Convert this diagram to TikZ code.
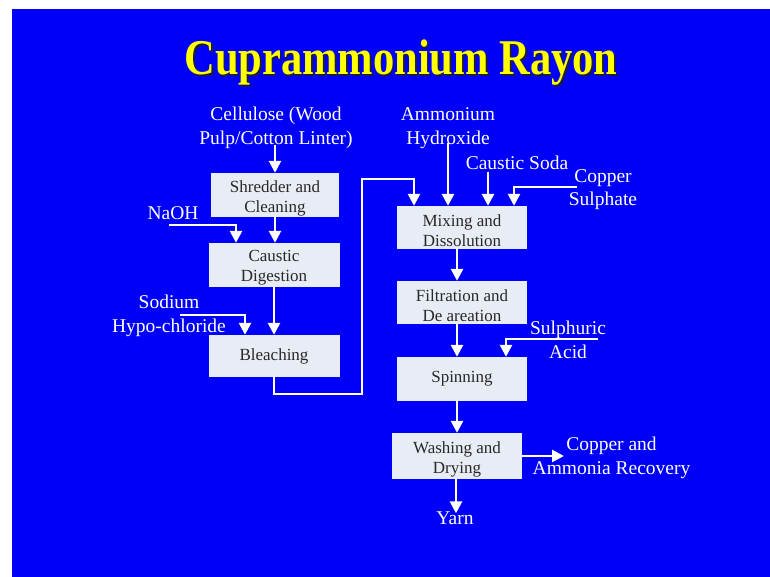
\documentclass[tikz,border=0pt]{standalone}
\usepackage{fontspec}
\setmainfont{Liberation Serif}
\usetikzlibrary{arrows.meta}

\definecolor{slideblue}{RGB}{0,0,250}
\definecolor{boxfill}{RGB}{232,236,244}
\definecolor{boxtext}{RGB}{40,40,40}
\definecolor{titleyellow}{RGB}{255,255,0}
\definecolor{titleshadow}{RGB}{30,30,60}

\tikzset{
  procbox/.style={fill=boxfill, inner sep=0pt},
  boxlabel/.style={text=boxtext, align=center, inner sep=0pt,
    font=\fontsize{17}{20}\selectfont},
  feed/.style={text=white, align=center, inner sep=0pt,
    font=\fontsize{19.5}{23.5}\selectfont},
  flow/.style={draw=white, line width=2.6pt,
    -{Triangle[width=12pt,length=12pt]}},
}

\begin{document}
\begin{tikzpicture}[x=1pt,y=-1pt]
  % page and slide background
  \useasboundingbox (0,0) rectangle (770,577);
  \fill[white] (0,0) rectangle (770,577);
  \fill[slideblue] (12,9) rectangle (770,577);

  % title with drop shadow
  \node[text=titleyellow, font=\bfseries\fontsize{50}{56}\selectfont, xscale=0.85]
    (title) at (401,64)
    {\rlap{\kern2pt\raisebox{-2pt}{\color{titleshadow}Cuprammonium Rayon}}Cuprammonium Rayon};

  % pulp preparation column
  \node[procbox, minimum width=128pt, minimum height=44pt] (shred) at (275,195) {};
  \node[procbox, minimum width=131pt, minimum height=44pt] (caus) at (274,265) {};
  \node[procbox, minimum width=131pt, minimum height=42pt] (bleach) at (274,356) {};

  % solution and fibre column
  \node[procbox, minimum width=130pt, minimum height=43pt] (mix) at (462,227.5) {};
  \node[procbox, minimum width=130pt, minimum height=43pt] (filt) at (462,302.5) {};
  \node[procbox, minimum width=130pt, minimum height=44pt] (spin) at (462,379) {};
  \node[procbox, minimum width=130pt, minimum height=46pt] (wash) at (457,456) {};

  % box texts
  \node[boxlabel] (shredT) at ([yshift=-3pt]shred.center) {Shredder and\\Cleaning};
  \node[boxlabel] (causT) at ([yshift=-3pt]caus.center) {Caustic\\Digestion};
  \node[boxlabel] (bleachT) at (bleach.center) {Bleaching};
  \node[boxlabel] (mixT) at ([yshift=-3pt]mix.center) {Mixing and\\Dissolution};
  \node[boxlabel] (filtT) at ([yshift=-3pt]filt.center) {Filtration and\\De areation};
  \node[boxlabel] (spinT) at (spin.center) {Spinning};
  \node[boxlabel] (washT) at ([yshift=-3pt]wash.center) {Washing and\\Drying};

  % feed and product labels
  \node[feed] (cell) at (276,128) {Cellulose (Wood\\Pulp/Cotton Linter)};
  \node[feed] (naoh) at (173,213) {NaOH};
  \node[feed] (sodium) at (169,316) {Sodium\\Hypo-chloride};
  \node[feed] (ammon) at (448,128) {Ammonium\\Hydroxide};
  \node[feed] (csoda) at (517,163) {Caustic Soda};
  \node[feed] (cuso) at (603,189.5) {Copper\\Sulphate};
  \node[feed] (acid) at (568,340) {Sulphuric\\Acid};
  \node[feed] (recov) at (611.5,458) {Copper and\\Ammonia Recovery};
  \node[feed] (yarn) at (455,518) {Yarn};

  % free ends of feed lines
  \coordinate (cellOut) at (275,145);
  \coordinate (naohOut) at (169,225);
  \coordinate (sodOut) at (180,315);
  \coordinate (ammOut) at (448,143);
  \coordinate (sodaOut) at (488,172);
  \coordinate (cuOut) at (577,187);
  \coordinate (acidOut) at (598,339);
  \coordinate (recIn) at (564,456);
  \coordinate (loopA) at (362,394);
  \coordinate (loopB) at (362,179);

  % pulp line
  \draw[flow] (cellOut) -- (shred.north);
  \draw[flow] (shred.south) -- (shred.south |- caus.north);
  \draw[flow] (naohOut) -| ([xshift=-38pt]caus.north);
  \draw[flow] (caus.south) -- (caus.south |- bleach.north);
  \draw[flow] (sodOut) -| ([xshift=-29pt]bleach.north);
  \draw[flow] (bleach.south) |- (loopA) -- (loopB) -| ([xshift=-48pt]mix.north);

  % reagents into mixing
  \draw[flow] (ammOut) -- (ammOut |- mix.north);
  \draw[flow] (sodaOut) -- (sodaOut |- mix.north);
  \draw[flow] (cuOut) -| ([xshift=52pt]mix.north);

  % spinning line
  \draw[flow] ([xshift=-5pt]mix.south) -- ([xshift=-5pt]filt.north);
  \draw[flow] ([xshift=-5pt]filt.south) -- ([xshift=-5pt]spin.north);
  \draw[flow] (acidOut) -| ([xshift=44pt]spin.north);
  \draw[flow] ([xshift=-5pt]spin.south) -- (wash.north);
  \draw[flow] (wash.east |- recIn) -- (recIn);
  \draw[flow] ([xshift=-1pt]wash.south) -- ([xshift=-1pt,yshift=-2pt]wash.south |- yarn.north);
\end{tikzpicture}
\end{document}
